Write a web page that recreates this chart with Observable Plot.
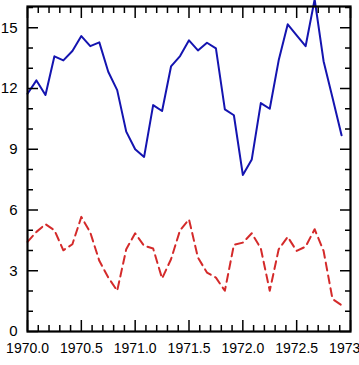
<!DOCTYPE html>
<html>
<head>
<meta charset="utf-8">
<script src="https://cdn.jsdelivr.net/npm/d3@7"></script>
<script src="https://cdn.jsdelivr.net/npm/@observablehq/plot@0.6"></script>
<style>
  html, body { margin: 0; padding: 0; background: #fff; }
  #chart svg { display: block; }
</style>
</head>
<body>
<div id="chart"></div>
<script>
const times = [
  1970.000, 1970.083, 1970.167, 1970.250, 1970.333, 1970.417, 1970.500, 1970.583, 1970.667, 1970.750, 1970.833, 1970.917,
  1971.000, 1971.083, 1971.167, 1971.250, 1971.333, 1971.417, 1971.500, 1971.583, 1971.667, 1971.750, 1971.833, 1971.917,
  1972.000, 1972.083, 1972.167, 1972.250, 1972.333, 1972.417, 1972.500, 1972.583, 1972.667, 1972.750, 1972.833, 1972.917
];
const seriesA = [11.74, 12.40, 11.68, 13.59, 13.39, 13.85, 14.59, 14.09, 14.28, 12.83, 11.92, 9.87,
                 9.00, 8.62, 11.18, 10.89, 13.09, 13.60, 14.38, 13.88, 14.26, 13.98, 10.97, 10.68,
                 7.73, 8.50, 11.28, 11.00, 13.39, 15.17, 14.62, 14.09, 16.40, 13.35, 11.54, 9.69];
const seriesB = [4.43, 4.92, 5.30, 5.00, 4.01, 4.31, 5.66, 4.89, 3.49, 2.67, 2.01, 4.06,
                 4.85, 4.23, 4.10, 2.62, 3.57, 5.00, 5.54, 3.65, 2.91, 2.66, 2.01, 4.28,
                 4.39, 4.85, 4.10, 2.01, 4.06, 4.67, 3.98, 4.19, 5.05, 3.98, 1.60, 1.30];
const xMajorTicks = [1970.0, 1970.5, 1971.0, 1971.5, 1972.0, 1972.5, 1973.0];
const xTickLabels = ["1970.0", "1970.5", "1971.0", "1971.5", "1972.0", "1972.5", "1973.0"];
const xMinorTicks = [1970.1, 1970.2, 1970.3, 1970.4, 1970.6, 1970.7, 1970.8, 1970.9,
                     1971.1, 1971.2, 1971.3, 1971.4, 1971.6, 1971.7, 1971.8, 1971.9,
                     1972.1, 1972.2, 1972.3, 1972.4, 1972.6, 1972.7, 1972.8, 1972.9];
const yMajorTicks = [0, 3, 6, 9, 12, 15];
const yMinorTicks = [1, 2, 4, 5, 7, 8, 10, 11, 13, 14, 16];

const dataA = times.map((t, i) => ({t, v: seriesA[i]}));
const dataB = times.map((t, i) => ({t, v: seriesB[i]}));
const labelOf = d => xTickLabels[xMajorTicks.indexOf(d)];

const font = "'Liberation Sans', Arial, Helvetica, sans-serif";
const noLabel = {fill: "none", tickFormat: () => ""};

const chart = Plot.plot({
  width: 359,
  height: 365,
  marginLeft: 27,
  marginRight: 9,
  marginTop: 6,
  marginBottom: 34,
  style: {fontFamily: font, background: "#fff", color: "#000"},
  x: {domain: [1970, 1973]},
  y: {domain: [0, 16.05]},
  marks: [
    Plot.line(dataB, {x: "t", y: "v", stroke: "#d42a2a", strokeWidth: 2, strokeDasharray: "8,5"}),
    Plot.line(dataA, {x: "t", y: "v", stroke: "#1414b0", strokeWidth: 2}),
    // bottom axis
    Plot.axisX({anchor: "bottom", ticks: xMajorTicks, tickSize: -11, tickPadding: 23, tickFormat: labelOf, fontSize: 14, stroke: "#000", strokeWidth: 1.5, label: null}),
    Plot.axisX({anchor: "bottom", ticks: xMinorTicks, tickSize: -6, strokeWidth: 1.5, label: null, ...noLabel}),
    // top axis
    Plot.axisX({anchor: "top", ticks: xMajorTicks, tickSize: -11, strokeWidth: 1.5, label: null, ...noLabel}),
    Plot.axisX({anchor: "top", ticks: xMinorTicks, tickSize: -6, strokeWidth: 1.5, label: null, ...noLabel}),
    // left axis
    Plot.axisY({anchor: "left", ticks: yMajorTicks, tickSize: -11, tickPadding: 21, tickFormat: d => String(d), fontSize: 15, strokeWidth: 1.5, label: null}),
    Plot.axisY({anchor: "left", ticks: yMinorTicks, tickSize: -6, strokeWidth: 1.5, label: null, ...noLabel}),
    // right axis
    Plot.axisY({anchor: "right", ticks: yMajorTicks, tickSize: -11, strokeWidth: 1.5, label: null, ...noLabel}),
    Plot.axisY({anchor: "right", ticks: yMinorTicks, tickSize: -6, strokeWidth: 1.5, label: null, ...noLabel}),
    Plot.frame({stroke: "#000", strokeWidth: 2.2})
  ]
});
document.getElementById("chart").appendChild(chart);
</script>
</body>
</html>
